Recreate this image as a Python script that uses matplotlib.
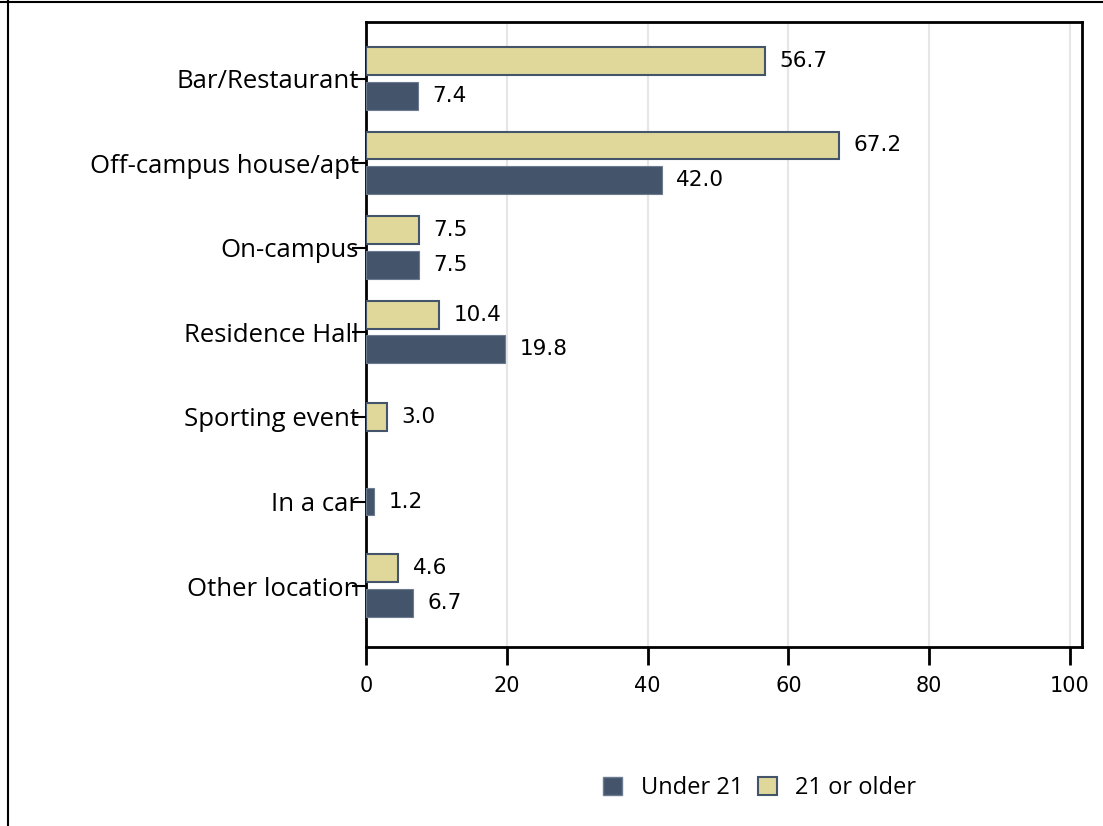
import matplotlib
matplotlib.use('Agg')
import matplotlib.pyplot as plt
from matplotlib.lines import Line2D
from matplotlib.patches import Patch

# data
categories = ['Bar/Restaurant', 'Off-campus house/apt', 'On-campus', 'Residence Hall',
              'Sporting event', 'In a car', 'Other location']
under21 = [7.4, 42.0, 7.5, 19.8, None, 1.2, 6.7]
older21 = [56.7, 67.2, 7.5, 10.4, 3.0, None, 4.6]
xticks = [0, 20, 40, 60, 80, 100]

navy = '#44546A'
sand = '#E0D89A'

plt.rcParams['font.family'] = ['Open Sans', 'DejaVu Sans']

fig = plt.figure(figsize=(11.03, 8.26), dpi=100)
ax = fig.add_axes([366 / 1103, 1 - 647 / 826, (1082 - 366) / 1103, (647 - 22) / 826])

h = 0.33


def label(x, y):
    ax.text(x + 2.0, y, f'{x:.1f}', va='center', ha='left', fontsize=15.5,
            family='DejaVu Sans', zorder=4)


for i, (u, o) in enumerate(zip(under21, older21)):
    # a category with only one series gets its bar centred on the tick
    both = u is not None and o is not None
    if o is not None:
        y = i - 0.21 if both else i
        ax.barh(y, o, height=h, color=sand, edgecolor=navy, linewidth=1.5, zorder=3)
        label(o, y)
    if u is not None:
        y = i + 0.2 if both else i
        ax.barh(y, u, height=h, color=navy, edgecolor='#6C7B90', linewidth=0.8, zorder=3)
        label(u, y)

ax.set_xlim(0, 101.7)
ax.set_ylim(6.72, -0.67)
ax.set_yticks(range(len(categories)))
ax.set_yticklabels(categories, fontsize=18.5)
ax.set_xticks(xticks)
ax.set_xticklabels([str(t) for t in xticks], fontsize=15, family='DejaVu Sans')
ax.tick_params(axis='y', direction='out', length=10, width=1.5, pad=-5)
ax.tick_params(axis='x', direction='out', length=13, width=2, pad=8)
ax.grid(True, axis='x', color='#E6E6E6', linewidth=1.5, zorder=0)
for s in ax.spines.values():
    s.set_linewidth(2)
    s.set_color('black')

handles = [Patch(facecolor=navy, edgecolor='#6C7B90', label='Under 21'),
           Patch(facecolor=sand, edgecolor=navy, linewidth=1.5, label='21 or older')]
fig.legend(handles=handles, loc='center', bbox_to_anchor=(760 / 1103, 1 - 788 / 826),
           ncol=2, frameon=False, fontsize=17, handlelength=0.8, handleheight=0.8,
           handletextpad=0.8, columnspacing=0.6)

# outer frame (top and left edges visible in the reference)
fig.add_artist(Line2D([0, 1], [1 - 1.5 / 826] * 2, transform=fig.transFigure, color='black', lw=1.5))
fig.add_artist(Line2D([8 / 1103] * 2, [0, 1], transform=fig.transFigure, color='black', lw=1.5))

fig.savefig('out.png', dpi=100)
